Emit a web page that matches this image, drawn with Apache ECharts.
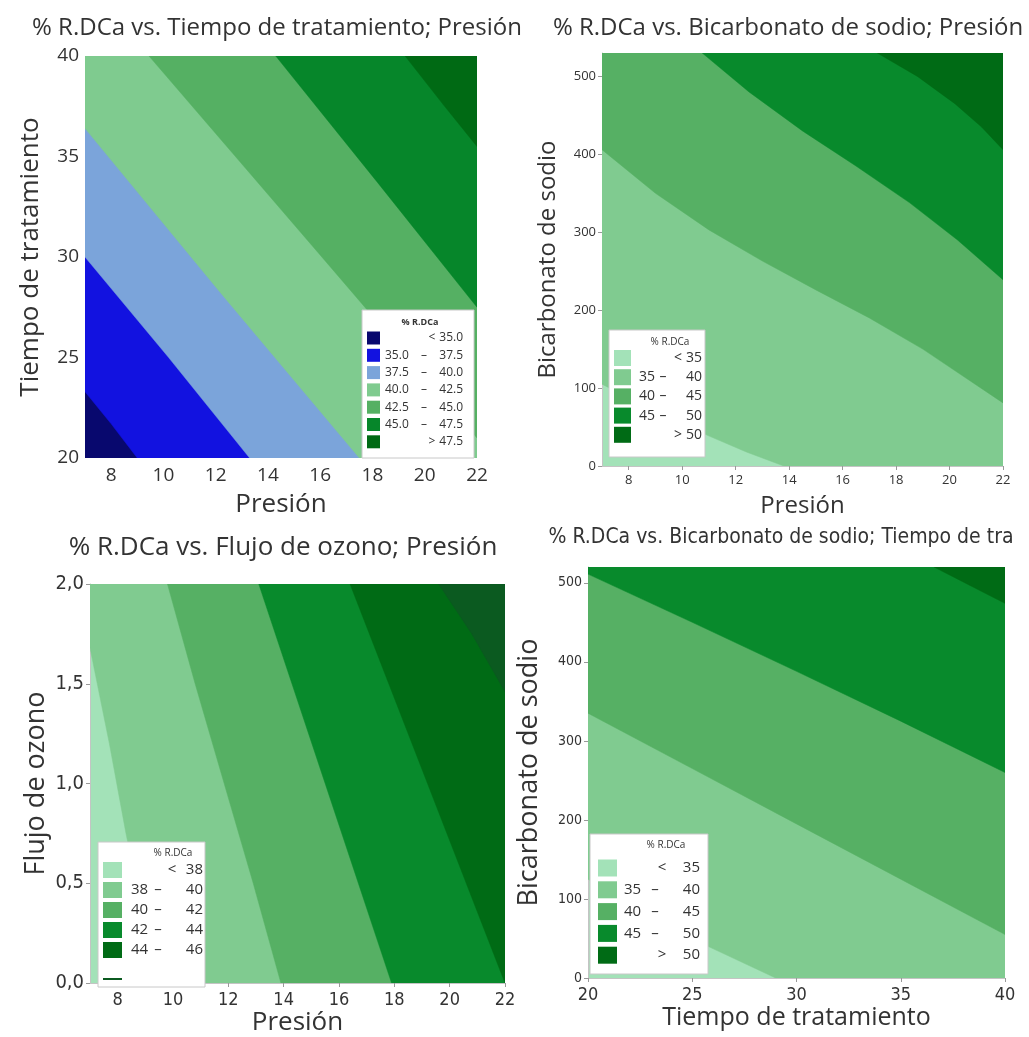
<!DOCTYPE html>
<html>
<head>
<meta charset="utf-8">
<script src="https://cdn.jsdelivr.net/npm/echarts@6/dist/echarts.min.js"></script>
<style>
  html, body { margin: 0; padding: 0; background: #ffffff; }
  #chart { width: 1029px; height: 1037px; }
</style>
</head>
<body>
<div id="chart"></div>
<script>
// ---------- tick values ----------
const presionTicks = [8, 10, 12, 14, 16, 18, 20, 22];
const tiempoTicksY = [20, 25, 30, 35, 40];
const tiempoTicksX = [20, 25, 30, 35, 40];
const bicarbTicks = [0, 100, 200, 300, 400, 500];
const flujoTicks = [0, 0.5, 1, 1.5, 2];

// ---------- panel 1: % R.DCa vs Tiempo de tratamiento; Presión ----------
const p1Levels = [35, 37.5, 40, 42.5, 45, 47.5];
const p1Line35 = [[7, 23.3], [8.0, 21.7], [9.0, 20]];
const p1Line375 = [[7, 30.0], [10.2, 25.0], [13.3, 20]];
const p1Line40 = [[7, 36.4], [12.2, 28.2], [17.5, 20]];
const p1Line425 = [[9.45, 40], [15.8, 30.4], [22, 21.0]];
const p1Line45 = [[14.3, 40], [18.2, 33.7], [22, 27.5]];
const p1Line475 = [[19.25, 40], [20.7, 37.6], [22, 35.5]];

// ---------- panel 2: % R.DCa vs Bicarbonato de sodio; Presión ----------
const p2Levels = [35, 40, 45, 50];
const p2Line35 = [[7, 105], [9, 70], [10.9, 40], [12.4, 18], [13.8, 0]];
const p2Line40 = [[7, 406], [9, 350], [11, 303], [13, 263], [15, 226], [17, 190], [19, 150], [22, 81]];
const p2Line45 = [[10.75, 530], [12.5, 480], [14.5, 430], [16.5, 385], [18.5, 338], [20.3, 290], [22, 239]];
const p2Line50 = [[17.3, 530], [18.8, 500], [20.2, 465], [21.2, 435], [22, 406]];

// ---------- panel 3: % R.DCa vs Flujo de ozono; Presión ----------
const p3Levels = [38, 40, 42, 44, 46];
const p3Line38 = [[7, 1.68], [7.7, 1.2], [8.3, 0.75], [8.9, 0.35], [9.4, 0]];
const p3Line40 = [[9.8, 2], [10.8, 1.5], [11.85, 1.0], [12.9, 0.5], [13.9, 0]];
const p3Line42 = [[13.1, 2], [14.3, 1.5], [15.5, 1.0], [16.7, 0.5], [17.9, 0]];
const p3Line44 = [[16.4, 2], [17.8, 1.5], [19.2, 1.0], [20.6, 0.5], [22, 0]];
const p3Line46 = [[19.6, 2], [20.8, 1.75], [22, 1.46]];

// ---------- panel 4: % R.DCa vs Bicarbonato de sodio; Tiempo de tratamiento ----------
const p4Levels = [35, 40, 45, 50];
const p4Line35 = [[20, 125], [22.5, 85], [25.6, 42], [29, 0]];
const p4Line40 = [[20, 335], [25, 265], [30, 195], [35, 125], [40, 55]];
const p4Line45 = [[20, 511], [25, 450], [30, 388], [35, 325], [40, 260]];
const p4Line50 = [[36.6, 520], [38.3, 497], [40, 474]];

// ---------- band colours ----------
const blueGreenColors = ['#08086e', '#1212e0', '#7ba4da', '#7fcb8f', '#55b063', '#06862a', '#006a14'];
const greenColors5 = ['#a3e2b8', '#80cb90', '#56b064', '#088a2c', '#006b15'];
const greenColors6 = ['#a3e2b8', '#80cb90', '#56b064', '#088a2c', '#006b15', '#0b5a20'];

const FONT = '"Open Sans", "Noto Sans", sans-serif';
const NARROW = '"Liberation Sans Narrow", "DejaVu Sans Condensed", "Open Sans", sans-serif';

const panels = [
  {
    title: '% R.DCa vs. Tiempo de tratamiento; Presión', titleX: 277, titleY: 28, titleFont: '24px ' + FONT,
    grid: { left: 85, top: 56, width: 392, height: 402 },
    x: { min: 7, max: 22, ticks: presionTicks, name: 'Presión', font: 19, family: FONT, nameSize: 26, nameGap: 34, tick: false },
    y: { min: 20, max: 40, ticks: tiempoTicksY, name: 'Tiempo de tratamiento', font: 19, family: FONT, nameSize: 26, nameGap: 41, tick: false },
    levels: p1Levels, lines: [p1Line35, p1Line375, p1Line40, p1Line425, p1Line45, p1Line475],
    colors: blueGreenColors, decimals: 1, frame: false,
    legend: { x: 362, y: 310, w: 112, h: 148, titleX: 420, titleY: 322, titleFont: 'bold 9px ' + FONT,
      rowY0: 338, step: 17.3, swX: 367, sw: 13, swH: 13, loX: 385, dashX: 424, hiX: 463, ltX: 432, font: '12px ' + FONT }
  },
  {
    title: '% R.DCa vs. Bicarbonato de sodio; Presión', titleX: 788, titleY: 28, titleFont: '24px ' + FONT,
    grid: { left: 602, top: 53, width: 401, height: 413 },
    x: { min: 7, max: 22, ticks: presionTicks, name: 'Presión', font: 13, family: FONT, nameSize: 24, nameGap: 28, tick: true },
    y: { min: 0, max: 530, ticks: bicarbTicks, name: 'Bicarbonato de sodio', font: 13, family: FONT, nameSize: 24, nameGap: 42, tick: true },
    levels: p2Levels, lines: [p2Line35, p2Line40, p2Line45, p2Line50],
    colors: greenColors5, decimals: 0, frame: true,
    legend: { x: 609, y: 330, w: 96, h: 127, titleX: 670, titleY: 342, titleFont: '10px ' + FONT,
      rowY0: 358, step: 19.2, swX: 614, sw: 17, swH: 16, loX: 639, dashX: 663, hiX: 702, ltX: 678, font: '14px ' + FONT }
  },
  {
    title: '% R.DCa vs. Flujo de ozono; Presión', titleX: 283, titleY: 548, titleFont: '26px ' + FONT,
    grid: { left: 90, top: 584, width: 415, height: 399 },
    x: { min: 7, max: 22, ticks: presionTicks, name: 'Presión', font: 18, family: NARROW, nameSize: 26, nameGap: 24, tick: true },
    y: { min: 0, max: 2, ticks: flujoTicks, name: 'Flujo de ozono', font: 20, family: NARROW, nameSize: 27, nameGap: 40, comma: true, tick: true },
    levels: p3Levels, lines: [p3Line38, p3Line40, p3Line42, p3Line44, p3Line46],
    colors: greenColors6, decimals: 0, frame: true,
    legend: { x: 98, y: 842, w: 107, h: 145, clipBottom: 980, titleX: 173, titleY: 853, titleFont: '10px ' + FONT,
      rowYs: [870, 890, 910, 930, 950, 986], swX: 103, sw: 19, swH: 16, loX: 131, dashX: 158, hiX: 203, ltX: 172, font: '15px ' + FONT }
  },
  {
    title: '% R.DCa vs. Bicarbonato de sodio; Tiempo de tra', titleX: 781, titleY: 538, titleFont: '21px ' + NARROW,
    grid: { left: 588, top: 567, width: 417, height: 411 },
    x: { min: 20, max: 40, ticks: tiempoTicksX, name: 'Tiempo de tratamiento', font: 18, family: NARROW, nameSize: 25, nameGap: 26, tick: true },
    y: { min: 0, max: 520, ticks: bicarbTicks, name: 'Bicarbonato de sodio', font: 14, family: NARROW, nameSize: 27, nameGap: 45, tick: true },
    levels: p4Levels, lines: [p4Line35, p4Line40, p4Line45, p4Line50],
    colors: greenColors5, decimals: 0, frame: true,
    legend: { x: 590, y: 834, w: 118, h: 140, titleX: 666, titleY: 845, titleFont: '10px ' + FONT,
      rowY0: 868, step: 21.8, swX: 598, sw: 19, swH: 17, loX: 624, dashX: 655, hiX: 700, ltX: 662, font: '15px ' + FONT }
  }
];

// Perimeter position of a boundary point: bottom 0..1, right 1..2, top 2..3, left 3..4
function perimeterPos(p, e) {
  const eps = 1e-9, x = p[0], y = p[1];
  if (Math.abs(y - e.y0) < eps) return (x - e.x0) / (e.x1 - e.x0);
  if (Math.abs(x - e.x1) < eps) return 1 + (y - e.y0) / (e.y1 - e.y0);
  if (Math.abs(y - e.y1) < eps) return 2 + (e.x1 - x) / (e.x1 - e.x0);
  return 3 + (e.y1 - y) / (e.y1 - e.y0);
}

// Region on the high side of a contour line: the line plus the plot corners
// passed while walking the frame from its end back to its start.
function highRegion(line, e) {
  const corners = [[e.x0, e.y0], [e.x1, e.y0], [e.x1, e.y1], [e.x0, e.y1]];
  const ps = perimeterPos(line[0], e);
  const pe = perimeterPos(line[line.length - 1], e);
  const target = ps <= pe ? ps + 4 : ps;
  const pts = line.slice();
  for (let k = Math.floor(pe) + 1; k < target - 1e-9; k++) pts.push(corners[k % 4]);
  return pts;
}

const grids = [], xAxes = [], yAxes = [], series = [], graphics = [];

panels.forEach((P, i) => {
  const ext = { x0: P.x.min, x1: P.x.max, y0: P.y.min, y1: P.y.max };
  grids.push(Object.assign({ show: true, backgroundColor: P.colors[0], borderWidth: 0 }, P.grid));

  const axisCommon = (A, isY) => ({
    gridIndex: i, type: 'value', min: A.min, max: A.max,
    name: A.name, nameLocation: 'middle', nameGap: A.nameGap,
    nameTextStyle: { fontFamily: FONT, fontSize: A.nameSize, color: '#333' },
    axisLine: { show: P.frame, lineStyle: { color: '#c4c4c4', width: 1 } },
    axisTick: { show: A.tick, length: 4, customValues: A.ticks, lineStyle: { color: '#999' } },
    splitLine: { show: false },
    axisLabel: {
      customValues: A.ticks, margin: isY ? 6 : 8,
      fontFamily: A.family, fontSize: A.font, color: '#333',
      formatter: A.comma ? (v) => v.toFixed(1).replace('.', ',') : (v) => String(v)
    }
  });
  xAxes.push(axisCommon(P.x, false));
  yAxes.push(Object.assign(axisCommon(P.y, true), { nameRotate: 90 }));

  P.lines.forEach((line, k) => {
    const poly = highRegion(line, ext);
    series.push({
      type: 'custom', name: 'p' + (i + 1) + '_' + P.levels[k],
      coordinateSystem: 'cartesian2d', xAxisIndex: i, yAxisIndex: i,
      silent: true, clip: true, z: 2 + k,
      data: [[ext.x0, ext.y0]],
      renderItem: (params, api) => ({
        type: 'polygon',
        shape: { points: poly.map((p) => api.coord(p)) },
        style: { fill: P.colors[k + 1], stroke: P.colors[k + 1], lineWidth: 0.5 }
      })
    });
  });

  // plot title
  graphics.push({
    type: 'text', x: P.titleX, y: P.titleY, z: 100,
    style: { text: P.title, font: P.titleFont, fill: '#333', align: 'center', verticalAlign: 'middle' }
  });

  // contour legend
  const L = P.legend;
  const fmt = (v) => v.toFixed(P.decimals);
  graphics.push({
    type: 'rect', z: 100,
    shape: { x: L.x, y: L.y, width: L.w, height: L.h },
    style: { fill: '#ffffff', stroke: '#c8c8c8', lineWidth: 1 }
  });
  graphics.push({
    type: 'text', x: L.titleX, y: L.titleY, z: 101,
    style: { text: '% R.DCa', font: L.titleFont, fill: '#333', align: 'center', verticalAlign: 'middle' }
  });
  const n = P.levels.length + 1;
  for (let r = 0; r < n; r++) {
    const cy = L.rowYs ? L.rowYs[r] : L.rowY0 + r * L.step;
    let top = cy - L.swH / 2, h = L.swH;
    if (L.clipBottom !== undefined) {
      if (top >= L.clipBottom) continue;
      h = Math.min(h, L.clipBottom - top);
    }
    graphics.push({
      type: 'rect', z: 101,
      shape: { x: L.swX, y: top, width: L.sw, height: h },
      style: { fill: P.colors[r] }
    });
    if (L.clipBottom !== undefined && cy + 6 > L.clipBottom) continue;
    const textStyle = (t, align) => ({ text: t, font: L.font, fill: '#333', align: align, verticalAlign: 'middle' });
    if (r === 0 || r === n - 1) {
      const val = r === 0 ? P.levels[0] : P.levels[P.levels.length - 1];
      graphics.push({ type: 'text', x: L.ltX, y: cy, z: 101, style: textStyle(r === 0 ? '<' : '>', 'center') });
      graphics.push({ type: 'text', x: L.hiX, y: cy, z: 101, style: textStyle(fmt(val), 'right') });
    } else {
      graphics.push({ type: 'text', x: L.loX, y: cy, z: 101, style: textStyle(fmt(P.levels[r - 1]), 'left') });
      graphics.push({ type: 'text', x: L.dashX, y: cy, z: 101, style: textStyle('–', 'center') });
      graphics.push({ type: 'text', x: L.hiX, y: cy, z: 101, style: textStyle(fmt(P.levels[r]), 'right') });
    }
  }
});

const chart = echarts.init(document.getElementById('chart'), null, { renderer: 'canvas' });
chart.setOption({
  backgroundColor: '#ffffff',
  animation: false,
  grid: grids,
  xAxis: xAxes,
  yAxis: yAxes,
  series: series,
  graphic: graphics
});
</script>
</body>
</html>
